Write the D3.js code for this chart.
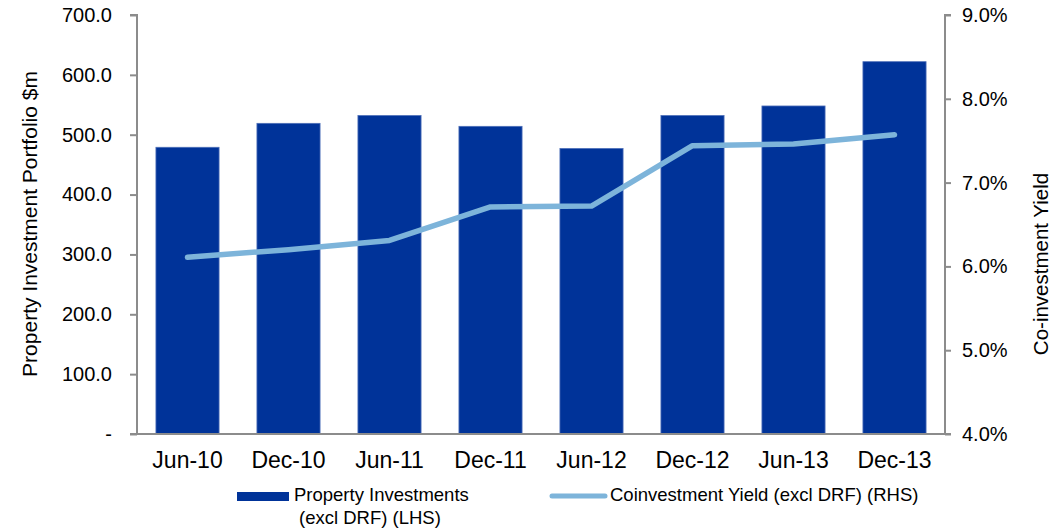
<!DOCTYPE html>
<html>
<head>
<meta charset="utf-8">
<script src="https://cdn.jsdelivr.net/npm/d3@7"></script>
<style>
  html, body { margin: 0; padding: 0; background: #fff; }
  svg { display: block; font-family: "Liberation Sans", Arial, sans-serif; }
</style>
</head>
<body>
<svg id="chart" width="1053" height="530"></svg>
<script>
// Half-yearly periods
const periods = ["Jun-10", "Dec-10", "Jun-11", "Dec-11", "Jun-12", "Dec-12", "Jun-13", "Dec-13"];
// Property investments excluding DRF, $m (left axis)
const propertyInvestments = [479, 519, 532, 514, 477, 532, 548, 622];
// Co-investment yield excluding DRF, % (right axis)
const coinvestmentYield = [6.11, 6.20, 6.31, 6.71, 6.72, 7.44, 7.46, 7.57];
// Axis ticks
const leftTicks = [0, 100, 200, 300, 400, 500, 600, 700];
const rightTicks = [4, 5, 6, 7, 8, 9];

const svg = d3.select("#chart");
const plot = { left: 137, right: 945, top: 15, bottom: 434 };

const x = d3.scaleBand().domain(periods).range([plot.left, plot.right]).paddingInner(0.375).paddingOuter(0.1875);
const xc = d3.scaleBand().domain(periods).range([plot.left, plot.right]);
const yL = d3.scaleLinear().domain([0, 700]).range([plot.bottom, plot.top]);
const yR = d3.scaleLinear().domain([4, 9]).range([plot.bottom, plot.top]);

const axisColor = "#8c8c8c";
const barColor = "#003399";
const lineColor = "#7db4da";

// Bars
svg.append("g").selectAll("rect")
  .data(periods)
  .join("rect")
  .attr("x", (d) => x(d))
  .attr("width", x.bandwidth())
  .attr("y", (d, i) => yL(propertyInvestments[i]))
  .attr("height", (d, i) => yL(0) - yL(propertyInvestments[i]))
  .attr("fill", barColor)
  .attr("stroke", "#4d6fb8")
  .attr("stroke-width", 0.8);

// Yield line
const line = d3.line()
  .x((d, i) => xc(periods[i]) + xc.bandwidth() / 2)
  .y((d) => yR(d));
svg.append("path")
  .datum(coinvestmentYield)
  .attr("d", line)
  .attr("fill", "none")
  .attr("stroke", lineColor)
  .attr("stroke-width", 5.5)
  .attr("stroke-linecap", "round")
  .attr("stroke-linejoin", "round");

// Left axis
const leftAxis = d3.axisLeft(yL)
  .tickValues(leftTicks)
  .tickSize(7)
  .tickPadding(18)
  .tickFormat((d) => d === 0 ? "-" : d3.format(".1f")(d));
const gL = svg.append("g").attr("transform", `translate(${plot.left},0)`).call(leftAxis);

// Right axis
const rightAxis = d3.axisRight(yR)
  .tickValues(rightTicks)
  .tickSize(6)
  .tickPadding(11)
  .tickFormat((d) => d3.format(".1f")(d) + "%");
const gR = svg.append("g").attr("transform", `translate(${plot.right},0)`).call(rightAxis);

[gL, gR].forEach((g) => {
  g.select(".domain").attr("stroke", axisColor).attr("stroke-width", 2);
  g.selectAll(".tick line").attr("stroke", axisColor).attr("stroke-width", 2);
  g.selectAll(".tick text")
    .attr("fill", "#000")
    .attr("font-size", "20px")
    .attr("font-family", "Liberation Sans, Arial, sans-serif");
});
gL.selectAll(".domain").attr("d", `M-7,${plot.top}H0V${plot.bottom}`);
gR.selectAll(".domain").attr("d", `M6,${plot.top}H0V${plot.bottom}`);

// Bottom axis
const bottomAxis = d3.axisBottom(xc).tickSize(0).tickPadding(18);
const gB = svg.append("g").attr("transform", `translate(0,${plot.bottom})`).call(bottomAxis);
gB.select(".domain").attr("d", `M${plot.left - 7},0H${plot.right + 6}`)
  .attr("stroke", axisColor).attr("stroke-width", 2);
gB.selectAll(".tick text")
  .attr("fill", "#000")
  .attr("font-size", "23px")
  .attr("font-family", "Liberation Sans, Arial, sans-serif");

// Axis titles
svg.append("text")
  .attr("transform", "translate(29,224) rotate(-90)")
  .attr("text-anchor", "middle")
  .attr("dominant-baseline", "central")
  .attr("font-size", "21px")
  .attr("fill", "#000")
  .text("Property Investment Portfolio $m");
svg.append("text")
  .attr("transform", "translate(1040,264) rotate(-90)")
  .attr("text-anchor", "middle")
  .attr("dominant-baseline", "central")
  .attr("font-size", "20.5px")
  .attr("fill", "#000")
  .text("Co-investment Yield");

// Legend
const legend = svg.append("g").attr("font-size", "18.5px").attr("fill", "#000");
legend.append("rect").attr("x", 237).attr("y", 492).attr("width", 52).attr("height", 9).attr("fill", barColor);
legend.append("text").attr("x", 294).attr("y", 501).text("Property Investments");
legend.append("text").attr("x", 299).attr("y", 524).text("(excl DRF) (LHS)");
legend.append("line").attr("x1", 552).attr("x2", 605).attr("y1", 496).attr("y2", 496)
  .attr("stroke", lineColor).attr("stroke-width", 5).attr("stroke-linecap", "round");
legend.append("text").attr("x", 610).attr("y", 501).text("Coinvestment Yield (excl DRF) (RHS)");
</script>
</body>
</html>
